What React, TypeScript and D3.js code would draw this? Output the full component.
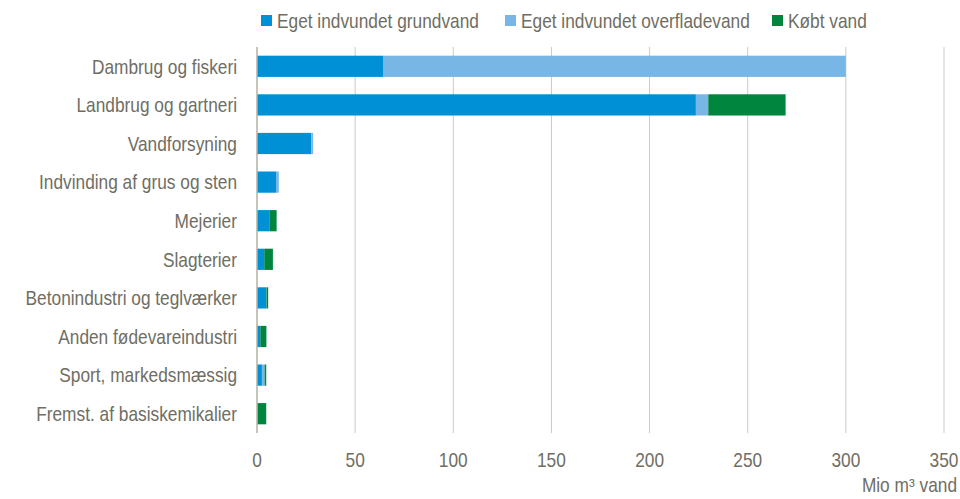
import React from 'react';
import * as d3 from 'd3';

const categories = [
  'Dambrug og fiskeri',
  'Landbrug og gartneri',
  'Vandforsyning',
  'Indvinding af grus og sten',
  'Mejerier',
  'Slagterier',
  'Betonindustri og teglværker',
  'Anden fødevareindustri',
  'Sport, markedsmæssig',
  'Fremst. af basiskemikalier',
];

const grundvand = [64.2, 223.6, 27.7, 9.7, 6.3, 3.7, 4.6, 1.7, 2.5, 0.3];
const overfladevand = [235.8, 6.3, 0.9, 1.4, 0, 0, 0.2, 0, 1.4, 0];
const koebtVand = [0, 39.4, 0, 0, 3.7, 4.4, 0.9, 3.1, 0.8, 4.4];

const seriesNames = ['Eget indvundet grundvand', 'Eget indvundet overfladevand', 'Købt vand'];
const seriesColors = ['#0090d6', '#77b6e5', '#00853e'];
const xTicks = [0, 50, 100, 150, 200, 250, 300, 350];

// no Arial Narrow here, so squeeze Liberation Sans (Arial metrics) horizontally
const font = '"Liberation Sans", Arial, sans-serif';
const textColor = '#6f6e63';

const NarrowText = ({ x, y, anchor = 'start', dy, children }: any) => (
  <text
    transform={`translate(${x},${y}) scale(0.865,1)`}
    dy={dy}
    textAnchor={anchor}
    fontFamily={font}
    fontSize={20}
    fill={textColor}
  >
    {children}
  </text>
);

const App = () => {
  const width = 960;
  const height = 499;

  const x = d3.scaleLinear().domain([0, 350]).range([257, 944]);
  const y = d3.scaleBand().domain(categories).range([47, 433]).paddingInner(0.45).paddingOuter(0.225);

  const rows = categories.map((c, i) => ({
    cat: c,
    v0: grundvand[i],
    v1: overfladevand[i],
    v2: koebtVand[i],
  }));
  const stacked = d3.stack().keys(['v0', 'v1', 'v2'])(rows as any);

  const legendX = [261, 505, 772];

  return (
    <svg width={width} height={height} style={{ position: 'absolute', left: 0, top: 0 }}>
      {xTicks.slice(1).map(t => (
        <line key={t} x1={x(t)} x2={x(t)} y1={47} y2={433} stroke="#cbcbc3" strokeWidth={1} />
      ))}
      {stacked.map((s, si) => (
        <g key={si} fill={seriesColors[si]}>
          {s.map((d, i) => (
            <rect
              key={i}
              x={x(d[0])}
              y={y(categories[i])}
              width={Math.max(0, x(d[1]) - x(d[0]))}
              height={y.bandwidth()}
            />
          ))}
        </g>
      ))}
      <line x1={x(0)} x2={x(0)} y1={47} y2={433} stroke="#b5b1a5" strokeWidth={1.5} />
      {categories.map(c => (
        <NarrowText key={c} x={237} y={(y(c) as number) + y.bandwidth() / 2} dy="0.36em" anchor="end">
          {c}
        </NarrowText>
      ))}
      {xTicks.map(t => (
        <NarrowText key={t} x={x(t)} y={467} anchor="middle">
          {t}
        </NarrowText>
      ))}
      <NarrowText x={957} y={492} anchor="end">
        Mio m³ vand
      </NarrowText>
      {seriesNames.map((n, i) => (
        <g key={n}>
          <rect x={legendX[i]} y={15} width={11} height={11} fill={seriesColors[i]} />
          <NarrowText x={legendX[i] + 16} y={28}>
            {n}
          </NarrowText>
        </g>
      ))}
    </svg>
  );
};

export default App;
